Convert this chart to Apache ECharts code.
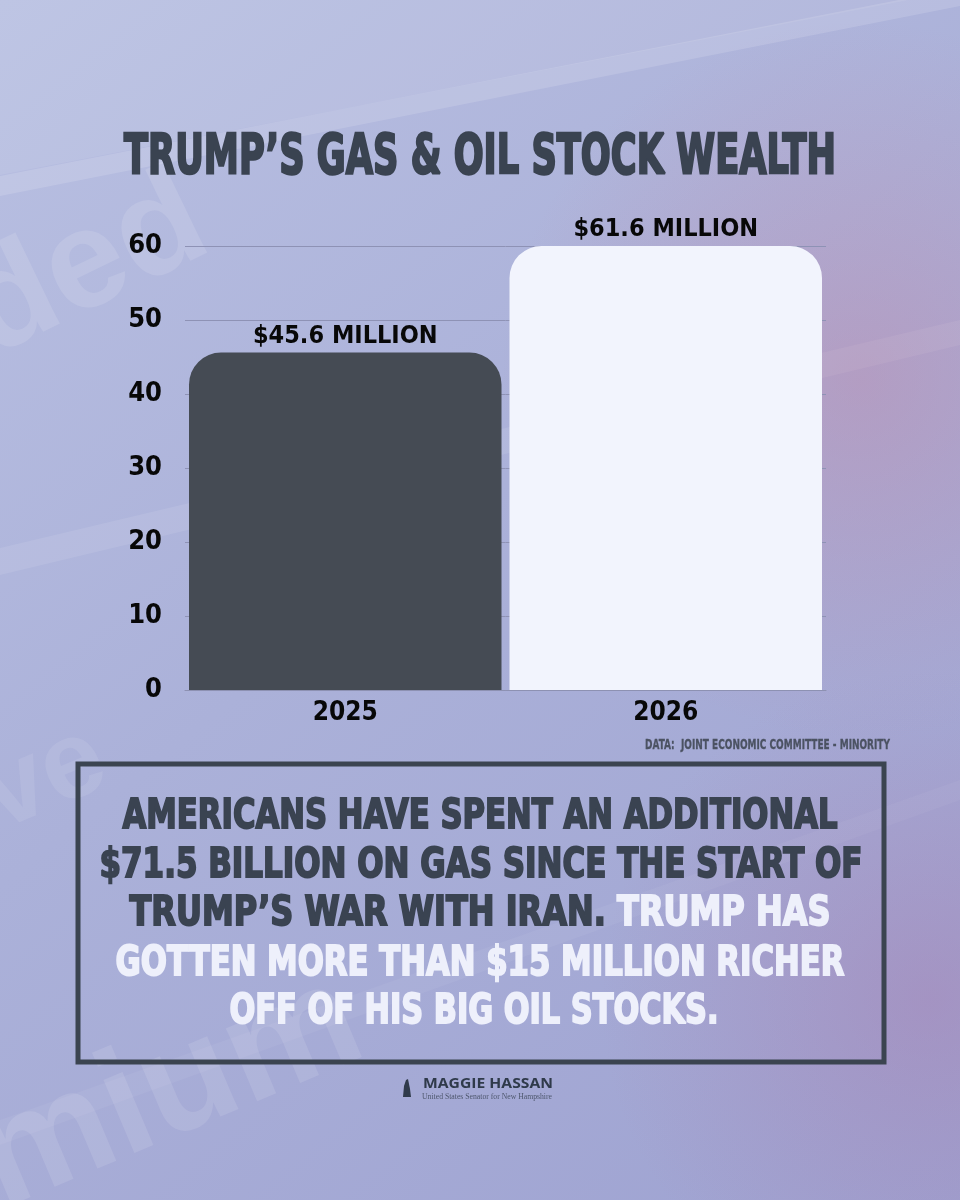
<!DOCTYPE html>
<html><head><meta charset="utf-8">
<script src="https://cdn.jsdelivr.net/npm/echarts@6/dist/echarts.min.js"></script>
<style>html,body{margin:0;padding:0;background:#aab0d8;} #main{width:960px;height:1200px;}</style>
</head><body><div id="main"></div>
<script>
// ---- data ----
const years = ['2025', '2026'];
const wealthMillions = [45.6, 61.6];
const yTicks = [0, 10, 20, 30, 40, 50, 60];
const titleText = 'TRUMP’S GAS & OIL STOCK WEALTH';
const sourceText = 'DATA:  JOINT ECONOMIC COMMITTEE - MINORITY';
const calloutLines = [
  'AMERICANS HAVE SPENT AN ADDITIONAL',
  '$71.5 BILLION ON GAS SINCE THE START OF',
  'TRUMP’S WAR WITH IRAN.|TRUMP HAS',
  'GOTTEN MORE THAN $15 MILLION RICHER',
  'OFF OF HIS BIG OIL STOCKS.'
];
const footerName = 'MAGGIE HASSAN';
const footerRole = 'United States Senator for New Hampshire';

// ---- styles ----
const barColors = ['#454b54', '#f2f4fd'];
const DARK = '#3a4351';
const LIGHT = '#eef0fb';

const mctx = document.createElement('canvas').getContext('2d');
const probe = 'MILLION WEALTH 0123';
function fw(font) { mctx.font = '10px monospace'; mctx.font = font; return mctx.measureText(probe).width; }
let WEIGHT = 'bold', FAMILY = "'DejaVu Sans Condensed', 'Liberation Sans'", STROKE = 1.8;
(function () {
  const base = fw("900 40px 'Noto Sans'");
  const ec = fw("900 extra-condensed 40px 'Noto Sans'");
  const c = fw("900 condensed 40px 'Noto Sans'");
  if (ec < base * 0.85) { WEIGHT = '900 extra-condensed'; FAMILY = "'Noto Sans'"; STROKE = 0; }
  else if (c < base * 0.9) { WEIGHT = '900 condensed'; FAMILY = "'Noto Sans'"; STROKE = 0; }
})();
function fontStr(size) { return WEIGHT + ' ' + size + 'px ' + FAMILY; }
function measure(str, font) { mctx.font = font; return mctx.measureText(str).width; }

function fitText(plain, x, y, size, targetW, fill, align, extra) {
  const w = measure(plain, fontStr(size));
  return {
    type: 'text', x: x, y: y, scaleX: targetW / w, z: 20,
    style: Object.assign({
      text: plain, fill: fill, stroke: STROKE ? fill : null, lineWidth: STROKE,
      font: fontStr(size),
      align: align || 'center', textAlign: align || 'center',
      verticalAlign: 'middle', textVerticalAlign: 'middle'
    }, extra || {})
  };
}

const graphics = [];
// background decorations
graphics.push({ type: 'polygon', z: -10, shape: { points: [[0, 0], [960, 0], [960, -10], [0, 175]] }, style: { fill: 'rgba(255,255,255,0.08)' } });
graphics.push({ type: 'polygon', z: -10, shape: { points: [[0, 176], [960, -12], [960, 6], [0, 196]] }, style: { fill: 'rgba(255,255,255,0.14)' } });
graphics.push({ type: 'polygon', z: -10, shape: { points: [[0, 548], [960, 320], [960, 345], [0, 575]] }, style: { fill: 'rgba(255,255,255,0.09)' } });
graphics.push({ type: 'polygon', z: -10, shape: { points: [[0, 1120], [960, 780], [960, 800], [0, 1145]] }, style: { fill: 'rgba(255,255,255,0.05)' } });
graphics.push({ type: 'circle', z: -9, shape: { cx: 860, cy: 380, r: 360 }, style: { fill: { type: 'radial', x: 0.5, y: 0.5, r: 0.5, colorStops: [{ offset: 0, color: 'rgba(200,120,150,0.32)' }, { offset: 1, color: 'rgba(200,120,150,0)' }] } } });
graphics.push({ type: 'circle', z: -9, shape: { cx: 930, cy: 1000, r: 330 }, style: { fill: { type: 'radial', x: 0.5, y: 0.5, r: 0.5, colorStops: [{ offset: 0, color: 'rgba(170,110,160,0.32)' }, { offset: 1, color: 'rgba(170,110,160,0)' }] } } });
graphics.push({ type: 'text', z: -8, x: 5, y: 385, rotation: 0.45, style: { text: 'ded', font: 'bold 140px "Liberation Sans"', fill: 'rgba(255,255,255,0.12)', align: 'left', verticalAlign: 'bottom' } });
graphics.push({ type: 'text', z: -8, x: -30, y: 870, rotation: 0.40, style: { text: 'rve', font: 'bold 110px "Liberation Sans"', fill: 'rgba(255,255,255,0.09)', align: 'left', verticalAlign: 'bottom' } });
graphics.push({ type: 'text', z: -8, x: 15, y: 1240, rotation: 0.40, style: { text: 'mium', font: 'bold 150px "Liberation Sans"', fill: 'rgba(255,255,255,0.11)', align: 'left', verticalAlign: 'bottom' } });

// title
graphics.push(fitText(titleText, 480, 158, 56, 712, DARK, 'center', { lineWidth: STROKE ? 2.4 : 0 }));
// source
graphics.push(fitText(sourceText, 890, 745, 14, 245, '#4b5262', 'right', { lineWidth: STROKE ? 0.3 : 0 }));
// callout box
graphics.push({ type: 'rect', z: 15, shape: { x: 78, y: 764, width: 806, height: 298 }, style: { fill: 'rgba(0,0,0,0)', stroke: '#3b4450', lineWidth: 5 } });
const lineY = [818, 867, 915, 965, 1013];
const lineW = [715, 763, 701, 729, 489];
const lineX = [480, 481, 480, 480, 474];
calloutLines.forEach((ln, i) => {
  const isMixed = ln.indexOf('|') >= 0;
  const plain = ln.replace('|', ' ');
  const fill = i >= 3 ? LIGHT : DARK;
  const g = fitText(plain, lineX[i], lineY[i], 40, lineW[i], fill);
  if (isMixed) {
    const parts = ln.split('|');
    g.style.text = '{d|' + parts[0] + '} {w|' + parts[1] + '}';
    g.style.rich = {
      d: { fill: DARK, stroke: STROKE ? DARK : null, lineWidth: STROKE, font: fontStr(40) },
      w: { fill: LIGHT, stroke: STROKE ? LIGHT : null, lineWidth: STROKE, font: fontStr(40) }
    };
  }
  graphics.push(g);
});
// footer
graphics.push({ type: 'polygon', z: 20, shape: { points: [[403, 1097], [404, 1086], [406, 1080], [408, 1079], [410, 1089], [411, 1097]] }, style: { fill: '#2f3a4a' } });
(function () {
  const f1 = 'bold 15px "Open Sans"';
  const w1 = measure(footerName, f1);
  graphics.push({ type: 'text', z: 20, x: 423, y: 1084, scaleX: 130 / w1, style: { text: footerName, font: f1, fill: '#2f3a4a', align: 'left', verticalAlign: 'middle' } });
  const f2 = '9px "Liberation Serif"';
  const w2 = measure(footerRole, f2);
  graphics.push({ type: 'text', z: 20, x: 422, y: 1097, scaleX: 130 / w2, style: { text: footerRole, font: f2, fill: '#4d566c', align: 'left', verticalAlign: 'middle' } });
})();

const chart = echarts.init(document.getElementById('main'), null, { renderer: 'canvas' });
const labelBase = { color: '#080808', fontFamily: FAMILY, fontWeight: WEIGHT };
chart.setOption({
  animation: false,
  backgroundColor: {
    type: 'linear', x: 0, y: 0, x2: 1, y2: 1,
    colorStops: [
      { offset: 0, color: '#b9c0e2' },
      { offset: 0.45, color: '#abb1d9' },
      { offset: 1, color: '#9ea2d1' }
    ]
  },
  grid: { left: 185, right: 134, top: 246, bottom: 510 },
  xAxis: {
    type: 'category', data: years,
    axisTick: { show: false },
    axisLine: { lineStyle: { color: '#8d91b2', width: 1 } },
    axisLabel: Object.assign({ fontSize: 26, margin: 10 }, labelBase)
  },
  yAxis: {
    type: 'value', min: yTicks[0], max: yTicks[yTicks.length - 1], interval: yTicks[1] - yTicks[0],
    axisLine: { show: false }, axisTick: { show: false },
    axisLabel: Object.assign({ fontSize: 27, margin: 23 }, labelBase),
    splitLine: { lineStyle: { color: '#8e92b5', width: 1 } }
  },
  series: [{
    type: 'bar',
    data: wealthMillions.map((v, i) => ({ value: v, itemStyle: { color: barColors[i] } })),
    barCategoryGap: '2.5%',
    itemStyle: { borderRadius: [32, 32, 0, 0] },
    label: Object.assign({
      show: true, position: 'top', distance: 4,
      formatter: p => '$' + p.value.toFixed(1) + ' MILLION',
      fontSize: 25
    }, labelBase)
  }],
  graphic: { elements: graphics }
});
</script>
</body></html>
